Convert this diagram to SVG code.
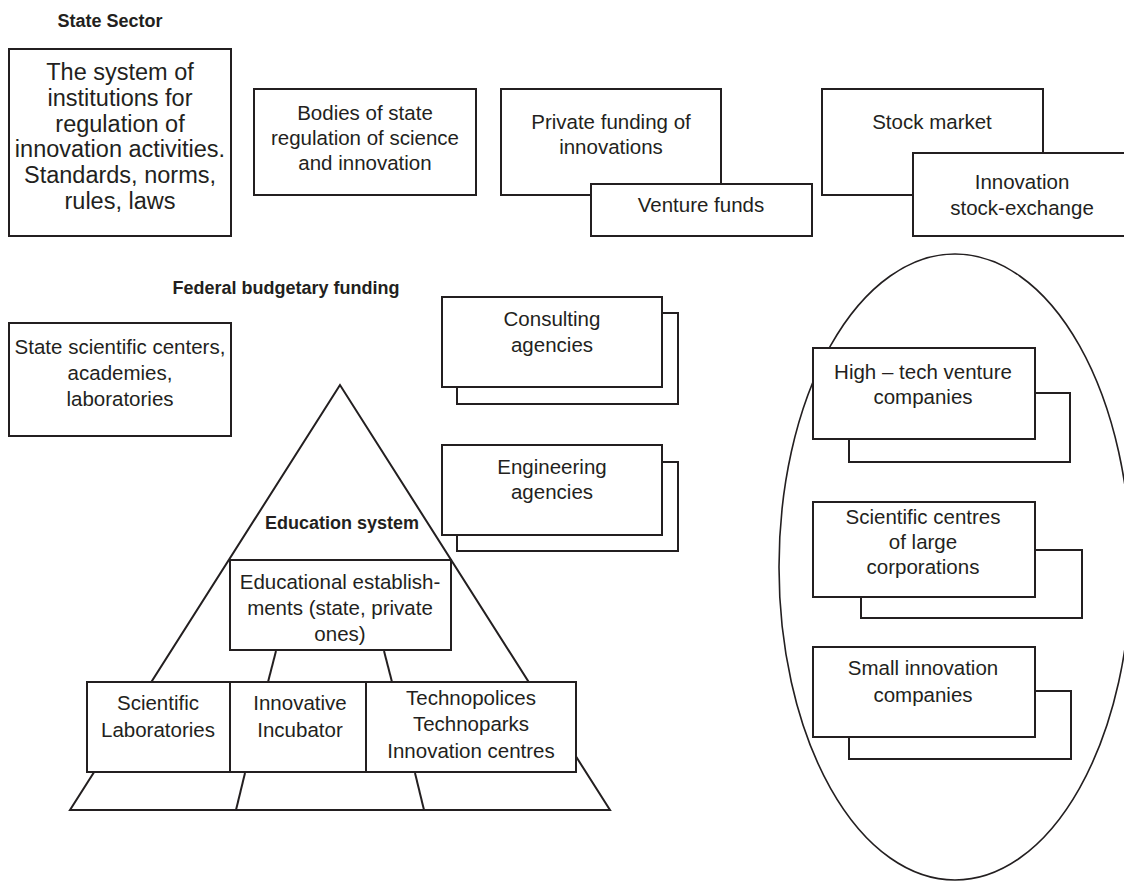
<svg xmlns="http://www.w3.org/2000/svg" width="1124" height="882" viewBox="0 0 1124 882">
<style>
.box{fill:#fff;stroke:#231f20;stroke-width:2}
.ln{fill:none;stroke:#231f20;stroke-width:2}
.t{font-family:"Liberation Sans",Arial,sans-serif;font-size:20.5px;fill:#231f20;text-anchor:middle}
.big{font-size:23.5px}
.h{font-family:"Liberation Sans",Arial,sans-serif;font-size:18px;font-weight:bold;fill:#231f20;text-anchor:middle}
</style>
<rect width="1124" height="882" fill="#fff"/>
<text class="h" x="110" y="27">State Sector</text>
<text class="h" x="286" y="294">Federal budgetary funding</text>

<g id="institutions">
<rect class="box" x="9" y="49" width="222" height="187"/>
<text class="t big" x="120" y="80">The system of</text>
<text class="t big" x="120" y="106">institutions for</text>
<text class="t big" x="120" y="132">regulation of</text>
<text class="t big" x="120" y="157">innovation activities.</text>
<text class="t big" x="120" y="183">Standards, norms,</text>
<text class="t big" x="120" y="209">rules, laws</text>
</g>
<g id="bodies">
<rect class="box" x="254" y="89" width="222" height="106"/>
<text class="t" x="365" y="120">Bodies of state</text>
<text class="t" x="365" y="145">regulation of science</text>
<text class="t" x="365" y="170">and innovation</text>
</g>
<g id="private-funding">
<rect class="box" x="501" y="89" width="220" height="106"/>
<text class="t" x="611" y="129">Private funding of</text>
<text class="t" x="611" y="154">innovations</text>
</g>
<g id="venture-funds">
<rect class="box" x="591" y="184" width="221" height="52"/>
<text class="t" x="701" y="212">Venture funds</text>
</g>
<g id="stock-market">
<rect class="box" x="822" y="89" width="221" height="106"/>
<text class="t" x="932" y="129">Stock market</text>
</g>
<g id="innovation-exchange">
<rect class="box" x="913" y="153" width="220" height="83"/>
<text class="t" x="1022" y="189">Innovation</text>
<text class="t" x="1022" y="215">stock-exchange</text>
</g>
<g id="state-scientific">
<rect class="box" x="9" y="323" width="222" height="113"/>
<text class="t" x="120" y="354">State scientific centers,</text>
<text class="t" x="120" y="380">academies,</text>
<text class="t" x="120" y="406">laboratories</text>
</g>
<g id="consulting">
<rect class="box" x="457" y="313" width="221" height="91"/>
<rect class="box" x="442" y="297" width="220" height="90"/>
<text class="t" x="552" y="326">Consulting</text>
<text class="t" x="552" y="352">agencies</text>
</g>
<g id="engineering">
<rect class="box" x="457" y="462" width="221" height="89"/>
<rect class="box" x="442" y="445" width="220" height="90"/>
<text class="t" x="552" y="474">Engineering</text>
<text class="t" x="552" y="499">agencies</text>
</g>

<g id="pyramid">
<polygon class="ln" points="340,385 70,810 610,810" style="fill:#fff"/>
<text class="h" x="342" y="529">Education system</text>
</g>
<g id="connectors">
<line class="ln" x1="276" y1="651" x2="268" y2="682"/>
<line class="ln" x1="384" y1="651" x2="392" y2="682"/>
<line class="ln" x1="245" y1="773" x2="236" y2="810"/>
<line class="ln" x1="415" y1="773" x2="424" y2="810"/>
</g>
<g id="educational">
<rect class="box" x="230" y="560" width="221" height="90"/>
<text class="t" x="340" y="589">Educational establish-</text>
<text class="t" x="340" y="615">ments (state, private</text>
<text class="t" x="340" y="641">ones)</text>
</g>
<g id="sci-labs">
<rect class="box" x="87" y="682" width="143" height="90"/>
<text class="t" x="158" y="710">Scientific</text>
<text class="t" x="158" y="737">Laboratories</text>
</g>
<g id="incubator">
<rect class="box" x="230" y="682" width="136" height="90"/>
<text class="t" x="300" y="710">Innovative</text>
<text class="t" x="300" y="737">Incubator</text>
</g>
<g id="technoparks">
<rect class="box" x="366" y="682" width="210" height="90"/>
<text class="t" x="471" y="705">Technopolices</text>
<text class="t" x="471" y="731">Technoparks</text>
<text class="t" x="471" y="758">Innovation centres</text>
</g>

<g id="business-sector">
<ellipse cx="955" cy="567" rx="176" ry="313" fill="none" stroke="#231f20" stroke-width="1.6"/>
</g>
<g id="high-tech">
<rect class="box" x="849" y="393" width="221" height="69"/>
<rect class="box" x="813" y="348" width="222" height="91"/>
<text class="t" x="923" y="379">High – tech venture</text>
<text class="t" x="923" y="404">companies</text>
</g>
<g id="corporate-centres">
<rect class="box" x="861" y="550" width="221" height="68"/>
<rect class="box" x="813" y="502" width="222" height="95"/>
<text class="t" x="923" y="524">Scientific centres</text>
<text class="t" x="923" y="549">of large</text>
<text class="t" x="923" y="574">corporations</text>
</g>
<g id="small-companies">
<rect class="box" x="849" y="691" width="222" height="68"/>
<rect class="box" x="813" y="647" width="222" height="90"/>
<text class="t" x="923" y="675">Small innovation</text>
<text class="t" x="923" y="702">companies</text>
</g>
</svg>
